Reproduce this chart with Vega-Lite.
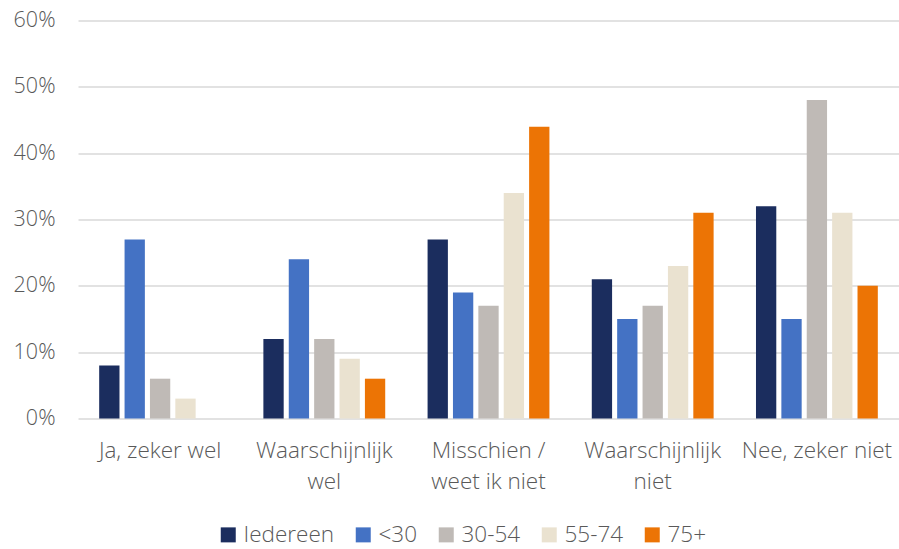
{
  "$schema": "https://vega.github.io/schema/vega-lite/v6.json",
  "autosize": {"type": "none"},
  "padding": {"left": 78, "top": 20.5, "right": 0, "bottom": 130.5},
  "width": 821,
  "height": 398,
  "background": "white",
  "config": {
    "view": {"stroke": null},
    "font": "Open Sans",
    "axis": {"labelFont": "Open Sans", "labelColor": "#595959", "labelFontWeight": 300}
  },
  "data": {
    "values": [
      {"antwoord": "Ja, zeker wel", "groep": "Iedereen", "waarde": 0.08},
      {"antwoord": "Ja, zeker wel", "groep": "<30", "waarde": 0.27},
      {"antwoord": "Ja, zeker wel", "groep": "30-54", "waarde": 0.06},
      {"antwoord": "Ja, zeker wel", "groep": "55-74", "waarde": 0.03},
      {"antwoord": "Ja, zeker wel", "groep": "75+", "waarde": 0.0},
      {"antwoord": "Waarschijnlijk wel", "groep": "Iedereen", "waarde": 0.12},
      {"antwoord": "Waarschijnlijk wel", "groep": "<30", "waarde": 0.24},
      {"antwoord": "Waarschijnlijk wel", "groep": "30-54", "waarde": 0.12},
      {"antwoord": "Waarschijnlijk wel", "groep": "55-74", "waarde": 0.09},
      {"antwoord": "Waarschijnlijk wel", "groep": "75+", "waarde": 0.06},
      {"antwoord": "Misschien / weet ik niet", "groep": "Iedereen", "waarde": 0.27},
      {"antwoord": "Misschien / weet ik niet", "groep": "<30", "waarde": 0.19},
      {"antwoord": "Misschien / weet ik niet", "groep": "30-54", "waarde": 0.17},
      {"antwoord": "Misschien / weet ik niet", "groep": "55-74", "waarde": 0.34},
      {"antwoord": "Misschien / weet ik niet", "groep": "75+", "waarde": 0.44},
      {"antwoord": "Waarschijnlijk niet", "groep": "Iedereen", "waarde": 0.21},
      {"antwoord": "Waarschijnlijk niet", "groep": "<30", "waarde": 0.15},
      {"antwoord": "Waarschijnlijk niet", "groep": "30-54", "waarde": 0.17},
      {"antwoord": "Waarschijnlijk niet", "groep": "55-74", "waarde": 0.23},
      {"antwoord": "Waarschijnlijk niet", "groep": "75+", "waarde": 0.31},
      {"antwoord": "Nee, zeker niet", "groep": "Iedereen", "waarde": 0.32},
      {"antwoord": "Nee, zeker niet", "groep": "<30", "waarde": 0.15},
      {"antwoord": "Nee, zeker niet", "groep": "30-54", "waarde": 0.48},
      {"antwoord": "Nee, zeker niet", "groep": "55-74", "waarde": 0.31},
      {"antwoord": "Nee, zeker niet", "groep": "75+", "waarde": 0.20}
    ]
  },
  "mark": {"type": "bar"},
  "encoding": {
    "x": {
      "field": "antwoord",
      "type": "nominal",
      "sort": ["Ja, zeker wel", "Waarschijnlijk wel", "Misschien / weet ik niet", "Waarschijnlijk niet", "Nee, zeker niet"],
      "scale": {"paddingInner": 0.258, "paddingOuter": 0.129},
      "axis": {
        "title": null,
        "labelAngle": 0,
        "ticks": false,
        "domain": false,
        "grid": false,
        "labelFontSize": 22.5,
        "labelPadding": 21,
        "labelLineHeight": 31,
        "labelBaseline": "top",
        "labelExpr": "datum.value == 'Waarschijnlijk wel' ? ['Waarschijnlijk', 'wel'] : datum.value == 'Misschien / weet ik niet' ? ['Misschien /', 'weet ik niet'] : datum.value == 'Waarschijnlijk niet' ? ['Waarschijnlijk', 'niet'] : datum.value"
      }
    },
    "xOffset": {
      "field": "groep",
      "type": "nominal",
      "sort": ["Iedereen", "<30", "30-54", "55-74", "75+"],
      "scale": {"paddingInner": 0.2, "paddingOuter": 0}
    },
    "y": {
      "field": "waarde",
      "type": "quantitative",
      "scale": {"domain": [0, 0.6], "nice": false},
      "axis": {
        "title": null,
        "format": ".0%",
        "values": [0, 0.1, 0.2, 0.3, 0.4, 0.5, 0.6],
        "ticks": false,
        "domain": false,
        "labelFontSize": 21.5,
        "labelPadding": 23,
        "gridColor": "#D9D9D9",
        "gridWidth": 1.5
      }
    },
    "color": {
      "field": "groep",
      "type": "nominal",
      "scale": {
        "domain": ["Iedereen", "<30", "30-54", "55-74", "75+"],
        "range": ["#1B2D5E", "#4472C4", "#BFBAB6", "#EAE2D0", "#EC7405"]
      },
      "legend": {
        "title": null,
        "orient": "none",
        "direction": "horizontal",
        "legendX": 139,
        "legendY": 503,
        "symbolType": "square",
        "symbolSize": 225,
        "symbolStrokeWidth": 0,
        "labelFont": "Open Sans",
        "labelFontSize": 22.5,
        "labelFontWeight": 300,
        "labelColor": "#595959",
        "labelOffset": 4,
        "columnPadding": 17
      }
    }
  }
}
